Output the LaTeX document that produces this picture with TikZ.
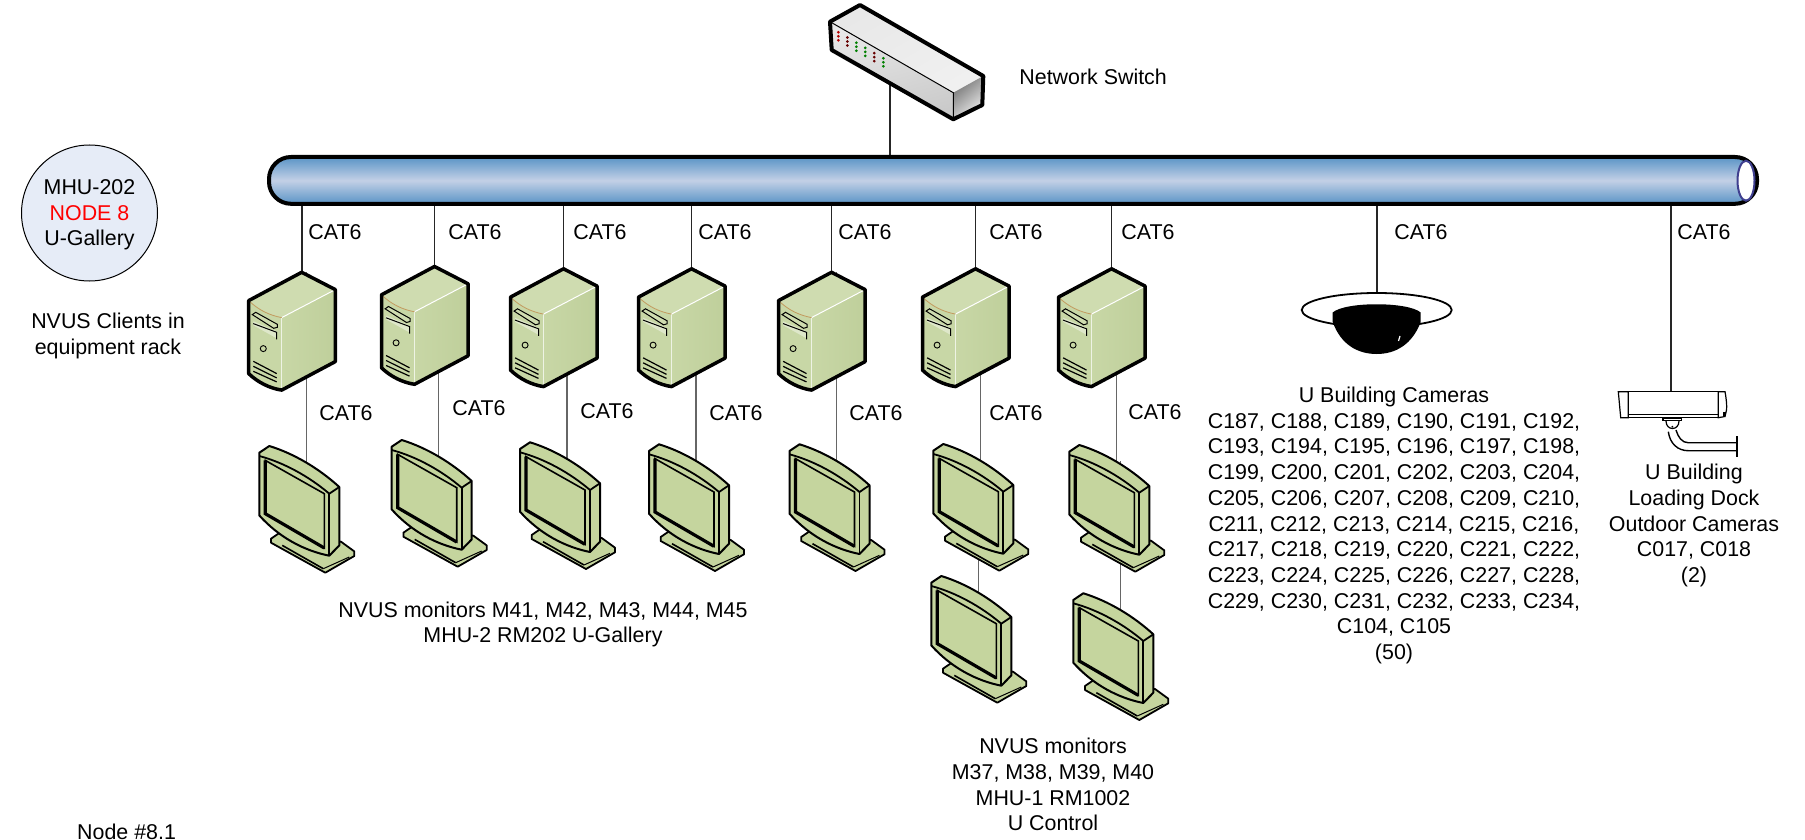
\documentclass[tikz,border=0pt]{standalone}
\usepackage{fontspec}
\setmainfont{Liberation Sans}
\usetikzlibrary{backgrounds,calc,shapes.geometric}
\definecolor{busedge}{HTML}{5A94C6}
\definecolor{busmid}{HTML}{C3D0E6}
\definecolor{pcgreen}{HTML}{C8D7A6}
\definecolor{pclight}{HTML}{CFDCB0}
\definecolor{pcdark}{HTML}{BFCF9B}
\definecolor{mongreen}{HTML}{C5D59E}
\definecolor{nodefill}{HTML}{E6ECF7}
\definecolor{swa}{HTML}{F0F0F0}
\definecolor{swb}{HTML}{E8E8E8}
\definecolor{swc}{HTML}{CACACA}
\definecolor{rimblue}{HTML}{3F3F8F}
\tikzset{
  txt/.style={font=\fontsize{10.7}{12.85}\selectfont, align=center, inner sep=0pt, text=black},
  lbl/.style={txt, anchor=west},
  wire/.style={draw=black!85, line width=0.8pt},
  thinwire/.style={draw=black!60, line width=0.55pt},
  heavy/.style={line width=1.75pt, line join=round},
  serverpic/.pic={
    \coordinate (-top) at (0,0);
    \coordinate (-bot) at (0,90);
    \fill[pcgreen] (-53,28.3) .. controls (-43,38) and (-32,43) .. (-20,45.3) -- (-20,117.8) .. controls (-32,116) and (-44,110) .. (-53,101.3) -- cycle;
    \fill[pclight] (0,0) -- (33.6,17.3) -- (-20,45.3) .. controls (-32,43) and (-43,38) .. (-53,28.3) -- cycle;
    \shade[left color=pcgreen, middle color=pclight, right color=pcdark] (-20,45.3) -- (33.6,17.3) -- (33.6,89.3) -- (-20,117.8) -- cycle;
    \draw[white, line width=0.5pt] (-20,45.3) -- (33.6,17.3);
    \draw[white!70!pcgreen, line width=0.5pt] (-20,45.3) -- (-20,117.8);
    \draw[brown!70!pcgreen, line width=0.4pt] (-53,28.3) .. controls (-43,38) and (-32,43) .. (-20,45.3);
    \draw[line width=0.5pt, fill=pclight] (-49.4,42.3) -- (-46,40) -- (-24.4,52) -- (-24.4,55) -- (-28,56) -- cycle;
    \fill[white!40!pcgreen] (-48.4,49) -- (-25,59) -- (-25,66) -- (-48.4,53) -- cycle;
    \draw[line width=0.5pt] (-48.4,51.3) -- (-25,60) -- (-25,67);
    \draw[line width=0.45pt] (-38.4,76.3) circle (3);
    \draw[line width=0.6pt]
      (-48.4,89) -- (-25,101.3) (-48.4,94) -- (-25,105.6) (-48.4,99) -- (-25,109.6);
    \draw[heavy] (0,0) -- (33.6,17.3) -- (33.6,89.3) -- (-20,117.8) .. controls (-32,116) and (-44,110) .. (-53,101.3) -- (-53,28.3) -- cycle;
  },
  monitorpic/.pic={
    \coordinate (-top) at (47,9);
    \draw[fill=mongreen, line width=0.9pt, line join=round]
      (11.7,86) -- (20,80.3) -- (81.7,89) -- (95,98.7) -- (95,103.3) -- (66,120) -- (11.7,90) -- cycle;
    \draw[line width=0.8pt] (23,92.7) -- (64,116);
    \draw[line width=0.5pt] (64,116) -- (90,104.3);
    \draw[fill=mongreen, line width=1pt, line join=round]
      (0,0) -- (10,-6.7) .. controls (35,1) and (60,16) .. (80,34.3) -- (80,92.7) -- (70,103)
      .. controls (45,98) and (20,85) .. (0,62.7) -- cycle;
    \draw[line width=0.9pt] (0,3.3) .. controls (25,10) and (50,24) .. (70,41) -- (80,34.3);
    \draw[line width=0.9pt] (70,41) -- (70,103);
    \draw[line width=0.8pt, fill=mongreen, line join=miter] (6,7.7) -- (65,41) -- (65,95.3) -- (6,61) -- cycle;
    \draw[line width=1.6pt, line join=miter] (6,7.7) -- (6,61) -- (65,95.3);
  }
}
\begin{document}
\begin{tikzpicture}[x=0.5pt,y=-0.5pt]
\useasboundingbox (0,0) rectangle (1805,840);

% bus
\node[draw=black, line width=2pt, rounded corners=11pt, top color=busedge, bottom color=busedge, middle color=busmid,
  minimum width=744pt, minimum height=23.4pt, inner sep=0pt, outer sep=0pt] (bus) at (1013,180.4) {};
\node[draw=rimblue, line width=1pt, fill=white, ellipse, minimum width=8.5pt, minimum height=20pt, inner sep=0pt] (busend) at (1746,180.7) {};

% node circle
\node[circle, draw=black, line width=0.5pt, fill=nodefill, minimum size=68pt, inner sep=0pt] (site) at (89.5,213) {};
\node[txt] (sitetext) at (89.5,215) {MHU-202\\\textcolor{red}{NODE 8}\\U-Gallery};
\node[txt] (rack) at (108,336) {NVUS Clients in\\equipment rack};
\node[txt, anchor=base] (nodenum) at (126.6,839) {Node \#8.1};

% switch
\coordinate (swport) at (890,84);
\shade[left color=swb, right color=swa, shading angle=30] (830,21.7) -- (860,5) -- (983.3,76) -- (953.3,92.7) -- cycle;
\shade[top color=swb, bottom color=swc, shading angle=15] (830,21.7) -- (953.3,92.7) -- (953.3,119.3) -- (831.7,50) -- cycle;
\shade[left color=black!55, right color=swa, shading angle=40] (953.3,92.7) -- (983.3,76) -- (982.3,105) -- (953.3,119.3) -- cycle;
\draw[line width=0.5pt] (830,21.7) -- (953.3,92.7) -- (953.3,119.3);
\foreach \k/\c in {0/red!70!black,1/red!40!black,2/green!50!black,3/green!50!black,4/red!40!black,5/green!50!black}
  \foreach \j in {0,1,2}
    \fill[\c] ({838.3+9*\k},{32.3+5.2*\k+4*\j}) circle (1.5);
\draw[line width=2pt, line join=round] (860,5) -- (983.3,76) -- (982.3,105) -- (953.3,119.3) -- (831.7,50) -- (830,21.7) -- cycle;
\node[lbl] (swlabel) at (1019,77) {Network Switch};

% servers
\pic (s1) at (301.7,272.3) {serverpic};
\pic (s2) at (434.5,266.5) {serverpic};
\pic (s3) at (563.5,268.8) {serverpic};
\pic (s4) at (691.5,268.8) {serverpic};
\pic (s5) at (831.5,272.3) {serverpic};
\pic (s6) at (975.5,268.8) {serverpic};
\pic (s7) at (1111.5,268.8) {serverpic};

% monitors
\pic (m1) at (259.3,452.7) {monitorpic};
\pic (m2) at (391.7,446.7) {monitorpic};
\pic (m3) at (520,449) {monitorpic};
\pic (m4) at (649,451) {monitorpic};
\pic (m5) at (789.5,451) {monitorpic};
\pic (m6) at (933.3,450.7) {monitorpic};
\pic (m7) at (1069.3,451.7) {monitorpic};
\pic (m8) at (931.3,582.7) {monitorpic};
\pic (m9) at (1073.3,600) {monitorpic};

% dome camera
\coordinate (dome) at (1376.7,293);
\draw[fill=white, line width=0.9pt] (1376.7,310) ellipse (75 and 17);
\fill[black] (1332.7,312.5) .. controls (1345,301.5) and (1408,301.5) .. (1420.7,312.5)
  -- (1420.7,322) .. controls (1412,345) and (1395,354) .. (1376.7,354)
  .. controls (1358,354) and (1341,345) .. (1332.7,322) -- cycle;
\draw[white, line width=0.6pt] (1398.5,341) -- (1400,336);

% outdoor camera
\coordinate (cam) at (1670.7,391.7);
\draw[line width=0.6pt, fill=white] (1628.3,391.7) rectangle (1718.3,414.3);
\draw[line width=0.6pt, fill=white] (1618.3,391.7) -- (1628.3,391.7) -- (1628.3,417.7) -- (1620.7,417.7) -- cycle;
\draw[line width=0.6pt, fill=white] (1718.3,391.7) -- (1725,391.7) .. controls (1726.5,400) and (1727,406) .. (1726.5,410) -- (1725,416.5) -- (1718.3,417.7) -- cycle;
\fill[black] (1722.5,411.7) rectangle (1726,416);
\draw[line width=0.6pt] (1628.3,417.7) -- (1718.3,417.7);
\draw[line width=0.6pt, fill=white] (1663,418.3) rectangle (1681.7,420.7);
\draw[line width=0.6pt] (1666,421) .. controls (1666,431) and (1679,431) .. (1679,421);
\fill (1672.3,426.7) circle (1);
\draw[line width=0.7pt] (1668.3,431.7) .. controls (1670,444) and (1678,450.7) .. (1688.3,450.7) -- (1736.7,450.7);
\draw[line width=0.7pt] (1676,430) .. controls (1678,437) and (1682,442.7) .. (1688,442.7) -- (1736.7,442.7);
\draw[line width=1pt] (1737.3,436) -- (1737.3,457.3);

% connectors
\begin{scope}[on background layer]
  \draw[wire] (bus.south -| swport) -- (swport);
  \foreach \n in {s1,s2,s3,s4,s5,s6,s7}
    \draw[wire] (bus.south -| \n-top) -- (\n-top);
  \draw[wire] (bus.south -| dome) -- (dome);
  \draw[wire] (bus.south -| cam) -- (cam);
  \foreach \a/\b in {s1/m1,s2/m2,s3/m3,s4/m4,s5/m5,s6/m6,s7/m7,m6/m8,m7/m9}
    \draw[thinwire] (\b-top) -- (\b-top |- \a-top);
\end{scope}

% top row labels
\node[lbl] (c1) at (308,232.5) {CAT6};
\node[lbl] (c2) at (448,232.5) {CAT6};
\node[lbl] (c3) at (573,232.5) {CAT6};
\node[lbl] (c4) at (698,232.5) {CAT6};
\node[lbl] (c5) at (838,232.5) {CAT6};
\node[lbl] (c6) at (989,232.5) {CAT6};
\node[lbl] (c7) at (1121,232.5) {CAT6};
\node[lbl] (c8) at (1394,232.5) {CAT6};
\node[lbl] (c9) at (1677,232.5) {CAT6};
% lower row labels
\node[lbl] (d1) at (319,413.5) {CAT6};
\node[lbl] (d2) at (452,408) {CAT6};
\node[lbl] (d3) at (580,411) {CAT6};
\node[lbl] (d4) at (709,413.5) {CAT6};
\node[lbl] (d5) at (849,413.5) {CAT6};
\node[lbl] (d6) at (989,413.5) {CAT6};
\node[lbl] (d7) at (1128,412.5) {CAT6};

% block texts
\node[txt] (lower1) at (543,624.5) {NVUS monitors M41, M42, M43, M44, M45\\MHU-2 RM202 U-Gallery};
\node[txt] (lower2) at (1053,784.5) {NVUS monitors\\M37, M38, M39, M40\\MHU-1 RM1002\\U Control};
\node[txt] (camlist) at (1394,525.5) {U Building Cameras\\C187, C188, C189, C190, C191, C192,\\C193, C194, C195, C196, C197, C198,\\C199, C200, C201, C202, C203, C204,\\C205, C206, C207, C208, C209, C210,\\C211, C212, C213, C214, C215, C216,\\C217, C218, C219, C220, C221, C222,\\C223, C224, C225, C226, C227, C228,\\C229, C230, C231, C232, C233, C234,\\C104, C105\\(50)};
\node[txt] (dock) at (1694,525.5) {U Building\\Loading Dock\\Outdoor Cameras\\C017, C018\\(2)};
\end{tikzpicture}
\end{document}
